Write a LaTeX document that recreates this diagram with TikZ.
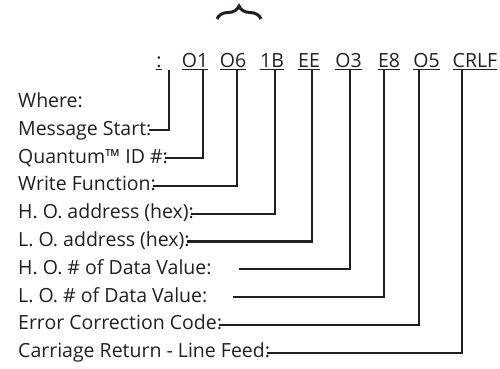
\documentclass[tikz,border=0pt]{standalone}
\usepackage{fontspec}
\setmainfont{Open Sans}
\usetikzlibrary{calc,decorations.pathreplacing}
\definecolor{ink}{HTML}{231F20}
\begin{document}
\begin{tikzpicture}[x=1bp,y=-1bp,
  every node/.style={inner sep=0pt, text=ink, font=\fontsize{19.5bp}{23bp}\selectfont},
  field/.style={anchor=base},
  lbl/.style={anchor=base west},
  wire/.style={draw=ink, line width=2.2bp},
  uline/.style={draw=ink, line width=1.2bp},
  bracestyle/.style={draw=ink, line width=3bp, decorate,
    decoration={brace, amplitude=13bp}}]
\useasboundingbox (0,0) rectangle (500,368);

% brace above the message
\coordinate (bl) at (217,19);
\coordinate (br) at (261,19);
\draw[bracestyle] (bl) -- (br);

% message bytes
\node[field] (t0) at (159,67) {:};
\node[field] (t1) at (195,67) {O1};
\node[field] (t2) at (233,67) {O6};
\node[field] (t3) at (272,67) {1B};
\node[field] (t4) at (309,67) {EE};
\node[field] (t5) at (348.5,67) {O3};
\node[field] (t6) at (389,67) {E8};
\node[field] (t7) at (426.5,67) {O5};
\node[field] (t8) at (475,67) {CRLF};
\foreach \i in {0,...,8}
  \draw[uline] ($(t\i.base west)+(0,2.5)$) -- ($(t\i.base east)+(0,2.5)$);

% field descriptions
\node[lbl] (l0) at (18,107.5) {Where:};
\node[lbl] (l1) at (18,135.3) {Message Start:};
\node[lbl] (l2) at (18,163.1) {Quantum™ ID \#:};
\node[lbl] (l3) at (18,190.9) {Write Function:};
\node[lbl] (l4) at (18,218.7) {H. O. address (hex):};
\node[lbl] (l5) at (18,246.5) {L. O. address (hex):};
\node[lbl] (l6) at (18,274.3) {H. O. \# of Data Value:};
\node[lbl] (l7) at (18,302.1) {L. O. \# of Data Value:};
\node[lbl] (l8) at (18,329.9) {Error Correction Code:};
\node[lbl] (l9) at (18,357.7) {Carriage Return - Line Feed:};

% leader lines from each byte to its description
\draw[wire] ($(t0.base)+(10,3)$) |- ($(l1.base east)+(-3,-5)$);
\draw[wire] ($(t1.base)+(8,3)$) |- ($(l2.base east)+(-3,-5)$);
\draw[wire] ($(t2.base)+(4,3)$) |- ($(l3.base east)+(-3,-5)$);
\draw[wire] ($(t3.base)+(3,3)$) |- ($(l4.base east)+(-3,-5)$);
\draw[wire] ($(t4.base)+(3,3)$) |- ($(l5.base east)+(-3,-5)$);
\draw[wire] ($(t5.base)+(1.5,3)$) |- ($(l6.base east)+(27,-5)$);
\draw[wire] ($(t6.base)+(-5,3)$) |- ($(l7.base east)+(25,-5)$);
\draw[wire] ($(t7.base)+(-7.5,3)$) |- ($(l8.base east)+(-3,-5)$);
\draw[wire] ($(t8.base)+(-13,3)$) |- ($(l9.base east)+(-3,-5)$);
\end{tikzpicture}
\end{document}
